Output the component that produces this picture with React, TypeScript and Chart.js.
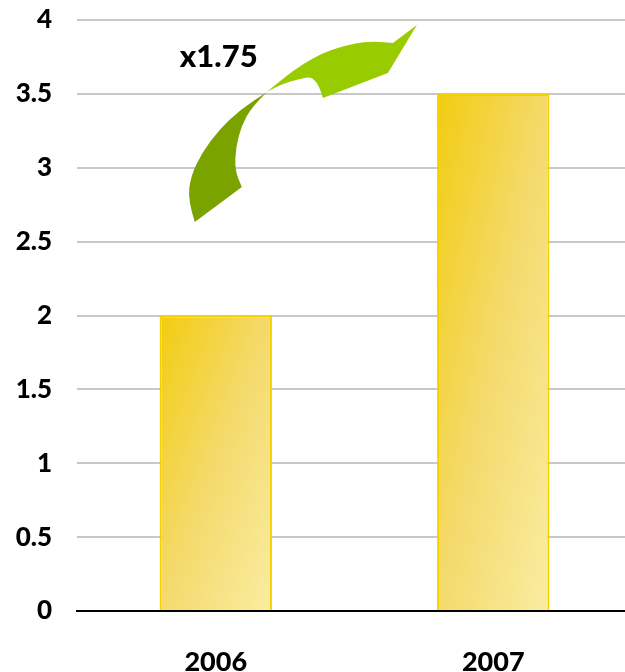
import React, { useEffect, useRef } from "react";
import { Chart, registerables } from "chart.js";

Chart.register(...registerables);

const categories = ["2006", "2007"];
const values = [2, 3.5];
const yTicks = [0, 0.5, 1, 1.5, 2, 2.5, 3, 3.5, 4];
const growthLabel = "x1.75";
const BAR_PCT = 0.405;

// Decorative arrow outline in a reference frame (plot spans x 77.25..632, y 20..611)
const arrowBack: [number, number][] = [
  [195, 222], [188, 200], [191, 176], [202, 153], [219, 130], [240, 110], [267, 92],
  [252, 107], [242, 125], [236, 147], [235, 170], [242, 187],
];
const arrowFront: [number, number][] = [
  [267, 92], [285, 77], [303, 64], [323, 53], [343, 46], [368, 41], [393, 43],
  [417, 25], [388, 73], [323, 98], [345, 80], [317, 76], [298, 79], [280, 85], [267, 92],
];

const FONT = "Lato, 'Open Sans', sans-serif";
const WEIGHT = 900;

export default function App() {
  const ref = useRef<HTMLCanvasElement>(null);
  useEffect(() => {
    const canvas = ref.current!;
    const barFill = (c: any) => {
      const chart = c.chart;
      const xs = chart.scales.x;
      const ys = chart.scales.y;
      if (!xs || !ys || c.dataIndex == null || !chart.chartArea) return "#F4DA6C";
      const cx = xs.getPixelForValue(c.dataIndex);
      const w = (xs.width / categories.length) * BAR_PCT;
      const top = ys.getPixelForValue(values[c.dataIndex]);
      const base = ys.getPixelForValue(0);
      const h = base - top;
      const x0 = cx - w / 2;
      const t = (2 * w * h) / (w * w + h * h);
      const g = chart.ctx.createLinearGradient(x0, top, x0 + t * h, top + t * w);
      g.addColorStop(0, "#F2CC10");
      g.addColorStop(0.5, "#F4DA6C");
      g.addColorStop(1, "#FAEDA2");
      return g;
    };
    const arrowPlugin = {
      id: "arrow",
      afterDatasetsDraw(chart: any) {
        const ctx = chart.ctx as CanvasRenderingContext2D;
        const ca = chart.chartArea;
        const sx = (px: number) => ca.left + ((px - 77.25) / (632 - 77.25)) * (ca.right - ca.left);
        const sy = (py: number) => ca.top + ((py - 20) / (611 - 20)) * (ca.bottom - ca.top);
        const smooth = (pts: [number, number][], start: boolean) => {
          if (start) ctx.moveTo(sx(pts[0][0]), sy(pts[0][1]));
          for (let i = 1; i < pts.length - 1; i++) {
            const mx = (pts[i][0] + pts[i + 1][0]) / 2;
            const my = (pts[i][1] + pts[i + 1][1]) / 2;
            ctx.quadraticCurveTo(sx(pts[i][0]), sy(pts[i][1]), sx(mx), sy(my));
          }
          const l = pts[pts.length - 1];
          ctx.lineTo(sx(l[0]), sy(l[1]));
        };
        ctx.save();
        ctx.beginPath();
        smooth(arrowBack.slice(0, 7), true);
        smooth(arrowBack.slice(6), false);
        ctx.closePath();
        ctx.fillStyle = "#7BA300";
        ctx.fill();
        ctx.beginPath();
        smooth(arrowFront.slice(0, 7), true);
        ctx.lineTo(sx(417), sy(25));
        ctx.lineTo(sx(388), sy(73));
        ctx.lineTo(sx(323), sy(98));
        smooth(arrowFront.slice(10), false);
        ctx.closePath();
        ctx.fillStyle = "#99CC00";
        ctx.fill();
        ctx.fillStyle = "#000";
        ctx.font = `${WEIGHT} 31px ${FONT}`;
        ctx.textAlign = "left";
        ctx.textBaseline = "alphabetic";
        ctx.fillText(growthLabel, sx(180), sy(67));
        ctx.restore();
      },
    };
    const chart = new Chart(canvas, {
      type: "bar",
      data: {
        labels: categories,
        datasets: [
          {
            data: values,
            backgroundColor: barFill,
            borderColor: "#F5D000",
            borderWidth: 2,
            barPercentage: BAR_PCT,
            categoryPercentage: 1,
          },
        ],
      },
      options: {
        responsive: false,
        animation: false,
        devicePixelRatio: 1,
        layout: { padding: { top: 20, left: 0, right: 0, bottom: 0 } },
        plugins: { legend: { display: false }, tooltip: { enabled: false } },
        scales: {
          x: {
            grid: { display: false },
            border: { display: true, color: "#000", width: 2 },
            ticks: {
              color: "#000",
              font: { family: FONT, size: 27, weight: WEIGHT as any },
              padding: 27,
            },
            afterFit: (s: any) => { s.height = 61; s.paddingLeft = 0; s.paddingRight = 0; },
          },
          y: {
            min: 0,
            max: 4,
            afterBuildTicks: (s: any) => { s.ticks = yTicks.map((v) => ({ value: v })); },
            grid: { color: "#C8C8C8", lineWidth: 2, drawTicks: false },
            border: { display: false },
            ticks: {
              color: "#000",
              font: { family: FONT, size: 26, weight: WEIGHT as any },
              padding: 25,
              callback: (v: any) => String(v),
            },
            afterFit: (s: any) => { s.width = 77; s.paddingTop = 0; s.paddingBottom = 0; },
          },
        },
      },
      plugins: [arrowPlugin],
    });
    chart.update();
    return () => chart.destroy();
  }, []);
  return (
    <div style={{ position: "fixed", left: 0, top: 0, width: 625, height: 672, overflow: "hidden", background: "#fff" }}>
      <canvas ref={ref} width={632} height={672} style={{ display: "block" }} />
    </div>
  );
}
